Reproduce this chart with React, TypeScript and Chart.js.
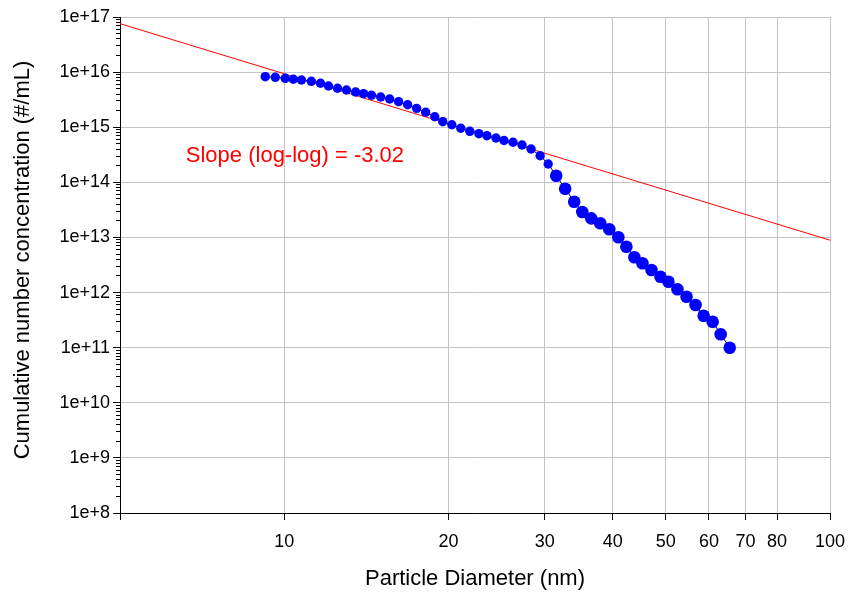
import { useEffect, useRef } from 'react';
import { Chart, registerables } from 'chart.js';

Chart.register(...registerables);

// Measured size distribution: particle diameter (nm) vs cumulative number concentration (#/mL)
const diameterNm = [
  9.23, 9.63, 10.04, 10.39, 10.75, 11.21, 11.65, 12.05, 12.52, 13.0,
  13.51, 13.97, 14.45, 15.02, 15.6, 16.2, 16.83, 17.48, 18.16, 18.87,
  19.52, 20.28, 21.06, 21.88, 22.73, 23.51, 24.43, 25.27, 26.25, 27.27,
  28.33, 29.43, 30.45, 31.5, 32.71, 33.98, 35.16, 36.52, 37.93, 39.41,
  40.94, 42.35, 43.81, 45.32, 47.08, 48.91, 50.58, 52.54, 54.59, 56.71,
  58.67, 60.94, 63.04, 65.5,
];
const concentration = [
  8.26e15, 8.05e15, 7.72e15, 7.41e15, 7.19e15, 6.81e15, 6.27e15, 5.6e15, 5.09e15, 4.74e15,
  4.36e15, 4.06e15, 3.8e15, 3.54e15, 3.25e15, 2.91e15, 2.56e15, 2.2e15, 1.87e15, 1.55e15,
  1.26e15, 1.11e15, 9.56e14, 8.43e14, 7.63e14, 7.02e14, 6.37e14, 5.74e14, 5.33e14, 4.76e14,
  4.03e14, 3.04e14, 2.15e14, 1.32e14, 7.66e13, 4.45e13, 2.9e13, 2.22e13, 1.81e13, 1.41e13,
  1.01e13, 6.79e12, 4.36e12, 3.4e12, 2.57e12, 1.94e12, 1.57e12, 1.15e12, 8.41e11, 5.94e11,
  3.8e11, 2.96e11, 1.75e11, 9.98e10,
];

// Power-law fit in log-log space: log10(N) = fitLogIntercept + fitSlope * log10(d)
const fitSlope = -3.02;
const fitLogIntercept = 18.99;
const fitRangeNm = [5, 100];
const slopeLabel = `Slope (log-log) = ${fitSlope.toFixed(2)}`;
const slopeLabelAt = { x: 6.6, y: 3.0e14 };

// Axis ranges, ticks and titles
const xMin = 5;
const xMax = 100;
const xTickValues = [5, 10, 20, 30, 40, 50, 60, 70, 80, 100];
const yMinExp = 8;
const yMaxExp = 17;
const xTitle = 'Particle Diameter (nm)';
const yTitle = 'Cumulative number concentration (#/mL)';

const FONT = '"Liberation Sans", Arial, Helvetica, sans-serif';
const GRID = '#c4c4c4';

const isDecade = (v: number) => {
  const l = Math.log10(v);
  return Math.abs(l - Math.round(l)) < 1e-9;
};

const yTickValues: number[] = [];
for (let e = yMinExp; e < yMaxExp; e++) {
  for (let m = 1; m <= 9; m++) yTickValues.push(m * Math.pow(10, e));
}
yTickValues.push(Math.pow(10, yMaxExp));

const align = (p: number) => Math.round(p - 0.5) + 0.5;

// Tick marks (major and minor), the vertical axis title and the fit annotation
const decorations = {
  id: 'decorations',
  afterDraw(chart: any) {
    const { ctx, chartArea, scales } = chart;
    const xs = scales.x;
    const ys = scales.y;
    ctx.save();
    ctx.strokeStyle = '#000';
    ctx.lineWidth = 1;
    ctx.beginPath();
    for (const t of ys.ticks) {
      const py = align(ys.getPixelForValue(t.value));
      const len = isDecade(t.value) ? 7 : 4;
      ctx.moveTo(chartArea.left - len, py);
      ctx.lineTo(chartArea.left, py);
    }
    for (const t of xs.ticks) {
      const px = align(xs.getPixelForValue(t.value));
      ctx.moveTo(px, chartArea.bottom);
      ctx.lineTo(px, chartArea.bottom + 7);
    }
    ctx.stroke();

    ctx.fillStyle = '#000';
    ctx.font = `22px ${FONT}`;
    ctx.textAlign = 'center';
    ctx.textBaseline = 'middle';
    ctx.save();
    ctx.translate(ys.left + 23, (chartArea.top + chartArea.bottom) / 2 - 5);
    ctx.rotate(-Math.PI / 2);
    ctx.fillText(yTitle, 0, 0);
    ctx.restore();

    ctx.fillStyle = '#ff0000';
    ctx.textAlign = 'left';
    ctx.fillText(slopeLabel, xs.getPixelForValue(slopeLabelAt.x), ys.getPixelForValue(slopeLabelAt.y));
    ctx.restore();
  },
};

export default function App() {
  const canvasRef = useRef<HTMLCanvasElement | null>(null);

  useEffect(() => {
    const canvas = canvasRef.current;
    if (!canvas) return;

    const measured = diameterNm.map((d, i) => ({ x: d, y: concentration[i] }));
    const fitLine = fitRangeNm.map((d) => ({
      x: d,
      y: Math.pow(10, fitLogIntercept + fitSlope * Math.log10(d)),
    }));

    const chart = new Chart(canvas, {
      type: 'scatter',
      data: {
        datasets: [
          {
            data: measured,
            showLine: true,
            borderColor: '#000000',
            borderWidth: 1,
            backgroundColor: '#0000ff',
            pointBackgroundColor: '#0000ff',
            pointBorderColor: '#0000ff',
            pointBorderWidth: 0,
            pointRadius: (c: any) => (c.raw && c.raw.x > 31 ? 6.3 : 4.7),
          },
          {
            data: fitLine,
            showLine: true,
            borderColor: '#ff0000',
            borderWidth: 1,
            pointRadius: 0,
          },
        ],
      },
      plugins: [decorations],
      options: {
        responsive: false,
        animation: false,
        layout: { padding: { top: 17, right: 18, left: 0, bottom: 0 } },
        plugins: {
          legend: { display: false },
          tooltip: { enabled: false },
        },
        scales: {
          x: {
            type: 'logarithmic',
            min: xMin,
            max: xMax,
            afterBuildTicks: (s: any) => {
              s.ticks = xTickValues.map((v) => ({ value: v }));
            },
            afterFit: (s: any) => {
              s.height = 81;
              s.paddingLeft = 0;
              s.paddingRight = 0;
            },
            grid: {
              color: (c: any) => (c.tick && c.tick.value === xMin ? 'rgba(0,0,0,0)' : GRID),
              lineWidth: 1,
              drawTicks: false,
            },
            border: { display: true, color: '#000', width: 1 },
            ticks: {
              autoSkip: false,
              maxRotation: 0,
              padding: 18,
              color: '#000',
              font: { family: FONT, size: 18 },
              callback: (v: any) => (Number(v) === xMin ? '' : String(v)),
            },
            title: {
              display: true,
              text: xTitle,
              color: '#000',
              font: { family: FONT, size: 22 },
              padding: { top: 0, bottom: 2 },
            },
          },
          y: {
            type: 'logarithmic',
            min: Math.pow(10, yMinExp),
            max: Math.pow(10, yMaxExp),
            afterBuildTicks: (s: any) => {
              s.ticks = yTickValues.map((v) => ({ value: v, major: isDecade(v) }));
            },
            afterFit: (s: any) => {
              s.width = 120;
              s.paddingTop = 0;
              s.paddingBottom = 0;
            },
            grid: {
              color: (c: any) => (c.tick && isDecade(c.tick.value) ? GRID : 'rgba(0,0,0,0)'),
              lineWidth: 1,
              drawTicks: false,
            },
            border: { display: true, color: '#000', width: 1 },
            ticks: {
              autoSkip: false,
              padding: 10,
              color: '#000',
              font: { family: FONT, size: 18 },
              callback: (v: any) =>
                isDecade(Number(v)) ? `1e+${Math.round(Math.log10(Number(v)))}` : '',
            },
            title: { display: false },
          },
        },
      },
    });

    return () => chart.destroy();
  }, []);

  return (
    <div style={{ position: 'absolute', left: 0, top: 0, width: 848, height: 594, background: '#fff' }}>
      <canvas ref={canvasRef} width={848} height={594} style={{ display: 'block' }} />
    </div>
  );
}
